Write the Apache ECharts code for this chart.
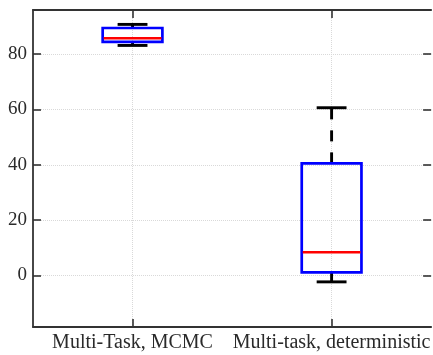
<!DOCTYPE html>
<html>
<head>
<meta charset="utf-8">
<script src="https://cdn.jsdelivr.net/npm/echarts@6/dist/echarts.min.js"></script>
<style>
html,body{margin:0;padding:0;background:#fff;}
#chart{width:433px;height:355px;}
</style>
</head>
<body>
<div id="chart"></div>
<script>
const categories = ['Multi-Task, MCMC', 'Multi-task, deterministic'];
const lowerWhisker = [83.1, -2.3];
const q1 = [84.4, 1.1];
const median = [85.7, 8.4];
const q3 = [89.4, 40.5];
const upperWhisker = [90.7, 60.6];
const yMin = -18.6;
const yMax = 95.9;

const boxData = categories.map((c, i) => [i, lowerWhisker[i], q1[i], median[i], q3[i], upperWhisker[i]]);

const font = 'Liberation Serif';
const axisColor = '#333';
const gridColor = '#d9d9d9';
const textColor = '#2a2a2a';

const chart = echarts.init(document.getElementById('chart'), null, {renderer: 'canvas'});

function renderBox(params, api) {
  const x = api.value(0);
  const band = api.size([1, 0])[0];
  const halfBox = band * 0.15;
  const halfCap = band * 0.075;
  const pLw = api.coord([x, api.value(1)]);
  const pQ1 = api.coord([x, api.value(2)]);
  const pMed = api.coord([x, api.value(3)]);
  const pQ3 = api.coord([x, api.value(4)]);
  const pUw = api.coord([x, api.value(5)]);
  const cx = pQ1[0];
  const whiskerStyle = {stroke: '#000', lineWidth: 2.9, lineDash: [11, 11], fill: null};
  const capStyle = {stroke: '#000', lineWidth: 2.9, fill: null};
  return {
    type: 'group',
    children: [
      {type: 'line', shape: {x1: cx, y1: pQ3[1], x2: cx, y2: pUw[1]}, style: whiskerStyle},
      {type: 'line', shape: {x1: cx, y1: pQ1[1], x2: cx, y2: pLw[1]}, style: whiskerStyle},
      {type: 'line', shape: {x1: cx - halfCap, y1: pUw[1], x2: cx + halfCap, y2: pUw[1]}, style: capStyle},
      {type: 'line', shape: {x1: cx - halfCap, y1: pLw[1], x2: cx + halfCap, y2: pLw[1]}, style: capStyle},
      {type: 'rect', shape: {x: cx - halfBox, y: pQ3[1], width: halfBox * 2, height: pQ1[1] - pQ3[1]},
        style: {stroke: '#0000ff', lineWidth: 2.7, fill: 'rgba(0,0,0,0)'}},
      {type: 'line', shape: {x1: cx - halfBox + 1, y1: pMed[1], x2: cx + halfBox - 1, y2: pMed[1]},
        style: {stroke: '#ff0000', lineWidth: 2.7}}
    ]
  };
}

chart.setOption({
  animation: false,
  backgroundColor: '#fff',
  grid: {left: 33, right: 0, top: 10, bottom: 28, containLabel: false},
  xAxis: [
    {
      type: 'category', data: categories, position: 'bottom',
      axisLine: {show: true, onZero: false, lineStyle: {color: axisColor, width: 1.8}},
      axisTick: {show: true, inside: true, length: 8, alignWithLabel: true, lineStyle: {color: axisColor, width: 1.6}},
      axisLabel: {show: true, color: textColor, fontFamily: font, fontSize: 20, margin: 6, interval: 0},
      splitLine: {show: false}
    },
    {
      type: 'category', data: categories, position: 'top',
      axisLine: {show: true, onZero: false, lineStyle: {color: axisColor, width: 1.8}},
      axisTick: {show: true, inside: true, length: 8, alignWithLabel: true, lineStyle: {color: axisColor, width: 1.6}},
      axisLabel: {show: false},
      splitLine: {show: false}
    },
    {
      type: 'value', min: -0.5, max: 1.5, splitNumber: 2, position: 'bottom',
      axisLine: {show: false, onZero: false}, axisTick: {show: false}, axisLabel: {show: false},
      splitLine: {show: true, showMinLine: false, showMaxLine: false, lineStyle: {color: gridColor, type: 'dotted', width: 1}}
    }
  ],
  yAxis: [
    {
      type: 'value', min: yMin, max: yMax, position: 'left',
      axisLine: {show: true, onZero: false, lineStyle: {color: axisColor, width: 1.8}},
      axisTick: {show: true, inside: true, length: 8, lineStyle: {color: axisColor, width: 1.6}},
      axisLabel: {show: true, color: textColor, fontFamily: font, fontSize: 19, margin: 6, showMinLabel: false, showMaxLabel: false,
        formatter: v => (Math.abs(v % 20) < 1e-6 ? String(v) : '')},
      splitLine: {show: true, showMinLine: false, showMaxLine: false, lineStyle: {color: gridColor, type: 'dotted', width: 1}}
    },
    {
      type: 'value', min: yMin, max: yMax, position: 'right',
      axisLine: {show: false, onZero: false},
      axisTick: {show: true, inside: true, length: 8, lineStyle: {color: axisColor, width: 1.6}},
      axisLabel: {show: false},
      splitLine: {show: false}
    }
  ],
  series: [
    {
      type: 'custom', xAxisIndex: 0, yAxisIndex: 0,
      renderItem: renderBox,
      encode: {x: 0, y: [1, 2, 3, 4, 5]},
      data: boxData,
      clip: false,
      z: 5
    }
  ]
});
</script>
</body>
</html>
